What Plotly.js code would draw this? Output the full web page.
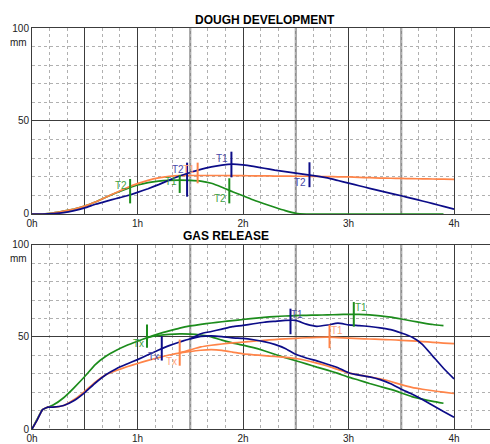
<!DOCTYPE html>
<html><head><meta charset="utf-8">
<script src="https://cdn.plot.ly/plotly-3.0.1.min.js"></script>
<style>html,body{margin:0;padding:0;background:#fff}#chart{width:490px;height:444px}</style>
</head><body><div id="chart"></div>
<script>
// ---------- DATA ----------
const xTickVals = [0, 0.5, 1, 2, 3, 4];
const xTickText = ['0h', '', '1h', '2h', '3h', '4h'];
const yTickVals = [0, 50, 100];
const yTickText = ['0', '50', '100'];

// Dough development (hours, mm)
const devTime = [0,0.1,0.2,0.3,0.4,0.5,0.6,0.7,0.8,0.9,1.0,1.1,1.2,1.3,1.4,1.5,1.6,1.7,1.8,1.9,2.0,2.1,2.2,2.3,2.4,2.5,2.6,2.7,2.8,2.9,3.0,3.1,3.2,3.3,3.4,3.5,3.6,3.7,3.8,3.9,4.0];
const devGreen = [0,0,0.5,1.5,2.7,4.2,6.4,9,11.4,13.6,15.6,16.9,17.7,18.1,18.2,18.1,17.7,16.5,14.4,12,9.8,7.5,5.5,3.6,1.8,0.4,0,0,0,0,0,0,0,0,0,0,0,0,0,0,null];
const devOrange = [0,0,0.5,1.5,2.7,4.2,6.4,9,11.6,14.1,16.3,18.1,19.4,20.2,20.6,20.7,20.7,20.7,20.7,20.6,20.6,20.5,20.5,20.4,20.4,20.3,20.3,20.2,20.1,20,19.9,19.7,19.5,19.3,19.2,19.1,19,18.9,18.8,18.7,18.6];
const devBlue = [0,0,0.2,0.7,1.8,3.3,5.2,6.8,8.3,9.8,11.6,13.6,15.8,18.2,20.4,22.3,24,25.3,26.3,26.8,26.4,25.6,24.6,23.6,22.8,22,21.2,20.4,19.4,18,16.6,15.2,13.8,12.4,11.1,9.8,8.4,7,5.6,4.1,2.6];

const devMarkTime   = [0.93, 1.40, 1.47, 1.57, 1.89, 1.87, 2.63];
const devMarkLo     = [5.7, 11.3, 9.3, 16.5, 19.7, 5.7, 14.4];
const devMarkHi     = [18.8, 21.0, 27.6, 27.6, 33.5, 19.2, 27.8];
const devMarkLabel  = ['T2', 'T1', 'T2', 'T1', 'T1', 'T2', 'T2'];
const devMarkSeries = ['green', 'green', 'blue', 'orange', 'blue', 'green', 'blue'];
const devMarkSide   = ['ul', 'ul', 'ul', 'ul', 'ul', 'll', 'll'];

// Gas release (hours, mm)
const gasTime = [0,0.05,0.1,0.15,0.2,0.3,0.4,0.5,0.6,0.7,0.8,0.9,1.0,1.1,1.2,1.3,1.4,1.5,1.6,1.7,1.8,1.9,2.0,2.1,2.2,2.3,2.4,2.5,2.6,2.7,2.8,2.9,3.0,3.1,3.2,3.3,3.4,3.5,3.6,3.7,3.8,3.9,4.0];
const gasGreenUpper = [0,5.5,10.5,11.9,13,17,22.5,28.5,35,39.5,42.8,45.5,47.7,49.8,51.7,53.3,54.8,56,56.9,57.6,58.3,58.9,59.5,60.1,60.7,61.1,61.4,61.6,61.8,61.9,62,62.2,62.3,62.3,62,61.5,60.8,59.8,58.7,57.7,56.8,56.2,null];
const gasGreenLower = [null,null,null,null,null,null,null,null,null,null,null,null,null,49.8,50.8,51.4,51.7,51.6,51.1,50.1,48.3,46.8,45.6,44.2,42.5,40.6,38.8,37.1,35.4,33.6,32,30.2,28.2,26.5,24.7,23.1,21.5,19.6,17.6,16.2,15,14,null];
const gasOrangeUpper = [0,5,10.5,11.9,11.9,12.8,16,20.5,25.5,29.5,31.8,33.8,35.6,37.3,38.8,40.2,41.4,43,44.6,45.5,46.2,46.8,47.2,47.7,48.2,48.6,49,49.3,49.6,49.8,49.9,49.7,49.4,49.1,48.9,48.7,48.5,48.2,47.9,47.5,47.1,46.7,46.4];
const gasOrangeLower = [null,null,null,null,null,null,null,null,null,null,null,null,null,null,null,null,41.4,42.1,42.8,43.1,42.7,41.8,40.8,40.3,39.9,39.4,38.9,38.3,37.2,35.8,34.2,32.3,30.5,29.3,28.4,27.3,25.8,24.1,22.6,21.6,20.8,20,19.3];
const gasBlueUpper = [0,5,10.5,11.9,11.9,12.8,15.5,19.8,25,29.5,32.8,35.3,37.7,40.3,42.9,45.3,47.3,49,51.8,53,54.3,55.6,56.3,57.2,58,58.5,59,59,57,55.8,56.5,57.5,56.6,56.2,55.7,55,54,52.2,50,46,39.5,33,27.2];
const gasBlueLower = [null,null,null,null,null,null,null,null,null,null,null,null,null,null,null,null,null,49,50.3,50.6,50.2,49.5,49.2,48.5,47.5,46,43.8,40.6,38.6,37,35.2,33.3,30.6,29.3,28.3,26.8,24.6,21.6,19,16,12.8,9.5,6.4];

const gasMarkTime   = [1.09, 1.23, 1.40, 2.45, 2.82, 3.05];
const gasMarkLo     = [44.1, 37.2, 34.4, 51.5, 43.9, 55.6];
const gasMarkHi     = [56.8, 50.4, 48.6, 65.4, 56.7, 69.0];
const gasMarkLabel  = ['Tx', 'Tx', 'Tx', 'T1', 'T1', 'T1'];
const gasMarkSeries = ['green', 'blue', 'orange', 'blue', 'orange', 'green'];
const gasMarkSide   = ['ll', 'll', 'll', 'ur', 'ur', 'ur'];

// ---------- STYLE ----------
const lineColor = {green: '#1c8c1c', orange: '#ff8448', blue: '#0c0c88'};
const labelColor = {green: '#3f9f3f', orange: '#ffa47c', blue: '#4a4aa8'};
const FONT = 'Liberation Sans, Arial, sans-serif';
const heavyGrid = [1.5, 2.5, 3.5];

const traces = [];
function curve(x, y, col, xa, ya) {
  traces.push({x: x, y: y, type: 'scatter', mode: 'lines', xaxis: xa, yaxis: ya,
    line: {color: lineColor[col], width: 1.7, shape: 'spline', smoothing: 0.4},
    connectgaps: false, hoverinfo: 'skip', showlegend: false});
}
curve(devTime, devGreen, 'green', 'x', 'y');
curve(devTime, devOrange, 'orange', 'x', 'y');
curve(devTime, devBlue, 'blue', 'x', 'y');
curve(gasTime, gasGreenUpper, 'green', 'x2', 'y2');
curve(gasTime, gasGreenLower, 'green', 'x2', 'y2');
curve(gasTime, gasOrangeUpper, 'orange', 'x2', 'y2');
curve(gasTime, gasOrangeLower, 'orange', 'x2', 'y2');
curve(gasTime, gasBlueUpper, 'blue', 'x2', 'y2');
curve(gasTime, gasBlueLower, 'blue', 'x2', 'y2');

const annotations = [];
function markers(t, lo, hi, lab, ser, side, xa, ya) {
  for (let i = 0; i < t.length; i++) {
    traces.push({x: [t[i], t[i]], y: [lo[i], hi[i]], type: 'scatter', mode: 'lines',
      xaxis: xa, yaxis: ya, line: {color: lineColor[ser[i]], width: 2},
      hoverinfo: 'skip', showlegend: false});
    const s = side[i];
    const a = {x: t[i], xref: xa, yref: ya, text: lab[i], showarrow: false,
      font: {family: FONT, size: 10, color: labelColor[ser[i]]}};
    if (s === 'ul') { a.y = hi[i]; a.yanchor = 'top'; a.xanchor = 'right'; a.xshift = -1; a.yshift = 1; }
    else if (s === 'll') { a.y = lo[i]; a.yanchor = 'bottom'; a.xanchor = 'right'; a.xshift = -1; a.yshift = -3; }
    else { a.y = hi[i]; a.yanchor = 'top'; a.xanchor = 'left'; a.xshift = -1; a.yshift = 2; }
    annotations.push(a);
  }
}
markers(devMarkTime, devMarkLo, devMarkHi, devMarkLabel, devMarkSeries, devMarkSide, 'x', 'y');
markers(gasMarkTime, gasMarkLo, gasMarkHi, gasMarkLabel, gasMarkSeries, gasMarkSide, 'x2', 'y2');

const tickFont = {family: FONT, size: 10, color: '#222'};
function xAx(anchor) {
  return {anchor: anchor, domain: [0, 1], range: [0, 4.341], tickvals: xTickVals, ticktext: xTickText,
    showgrid: true, gridcolor: '#3c3c3c', gridwidth: 1, zeroline: false,
    showline: true, mirror: true, linecolor: '#3c3c3c', linewidth: 1, ticks: '', tickfont: tickFont,
    minor: {dtick: 1/6, tick0: 0, showgrid: true, gridcolor: '#b0b0b0', griddash: 'dot', gridwidth: 1},
    fixedrange: true};
}
function yAx(anchor, dom) {
  return {anchor: anchor, domain: dom, range: [0, 100], tickvals: yTickVals, ticktext: yTickText,
    showgrid: true, gridcolor: '#3c3c3c', gridwidth: 1, zeroline: false,
    showline: true, linecolor: '#3c3c3c', linewidth: 1, ticks: '', tickfont: tickFont,
    minor: {dtick: 10, tick0: 0, showgrid: true, gridcolor: '#b0b0b0', griddash: 'dot', gridwidth: 1},
    fixedrange: true};
}

const shapes = [];
[['x', 'y'], ['x2', 'y2']].forEach(function (p) {
  heavyGrid.forEach(function (v) {
    shapes.push({type: 'line', xref: p[0], yref: p[1], x0: v, x1: v, y0: 0, y1: 100,
      line: {color: '#8e8e8e', width: 2}, layer: 'below'});
  });
});

annotations.push({text: '<b>DOUGH DEVELOPMENT</b>', xref: 'paper', yref: 'paper', x: 0.508, y: 1,
  xanchor: 'center', yanchor: 'middle', yshift: 8, showarrow: false,
  font: {family: FONT, size: 12, color: '#000'}});
annotations.push({text: '<b>GAS RELEASE</b>', xref: 'paper', yref: 'paper', x: 0.4236, y: 0.4589,
  xanchor: 'center', yanchor: 'middle', yshift: 9, showarrow: false,
  font: {family: FONT, size: 12, color: '#000'}});
['y', 'y2'].forEach(function (ya) {
  annotations.push({text: 'mm', xref: 'paper', yref: ya, x: 0, y: 100, xanchor: 'right', yanchor: 'middle',
    xshift: -3, yshift: -14, showarrow: false, font: {family: FONT, size: 10, color: '#222'}});
});

const layout = {
  width: 490, height: 444,
  margin: {l: 32, r: 0, t: 28, b: 15},
  paper_bgcolor: '#fff', plot_bgcolor: '#fff',
  showlegend: false,
  xaxis: xAx('y'), yaxis: yAx('x', [0.5362, 1]),
  xaxis2: xAx('y2'), yaxis2: yAx('x2', [0, 0.4589]),
  shapes: shapes, annotations: annotations,
  font: {family: FONT}
};
Plotly.newPlot('chart', traces, layout, {staticPlot: true, displayModeBar: false});
</script></body></html>
